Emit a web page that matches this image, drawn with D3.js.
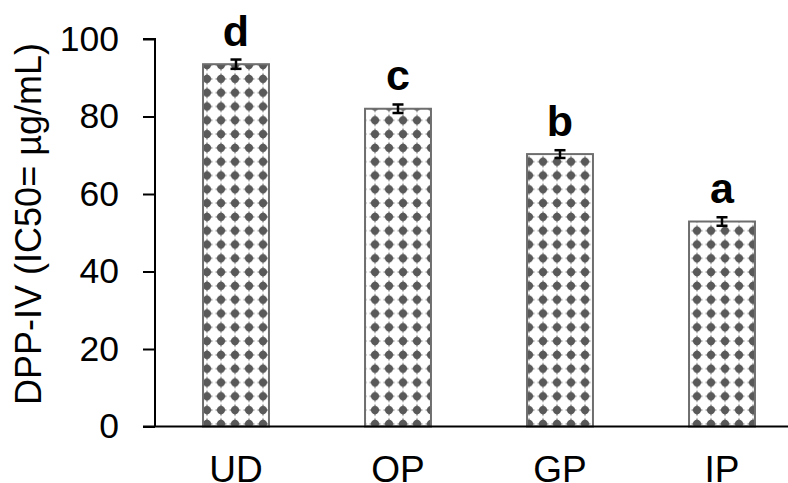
<!DOCTYPE html>
<html>
<head>
<meta charset="utf-8">
<script src="https://cdn.jsdelivr.net/npm/d3@7"></script>
<style>
html,body{margin:0;padding:0;background:#fff;}
svg{display:block;}
text{font-family:"Liberation Sans",Arial,sans-serif;}
</style>
</head>
<body>
<svg id="chart" width="788" height="483"></svg>
<script>
const categories = ["UD", "OP", "GP", "IP"];
const values = [93.5, 82.0, 70.3, 52.9];
const errors = [1.2, 1.1, 1.0, 1.1];
const letters = ["d", "c", "b", "a"];
const yTicks = [0, 20, 40, 60, 80, 100];
const yTitle = "DPP-IV (IC50= µg/mL)";

const svg = d3.select("#chart");
const W = 788, H = 483;
const plotLeft = 155, plotBottom = 426.5, plotTop = 39;

const x = d3.scaleBand().domain(categories).range([plotLeft, 803]).paddingInner(0.593).paddingOuter(0.2965);
const y = d3.scaleLinear().domain([0, 100]).range([plotBottom, plotTop]);

// pattern
const defs = svg.append("defs");
const pat = defs.append("pattern").attr("id", "dots")
  .attr("patternUnits", "userSpaceOnUse")
  .attr("width", 14).attr("height", 13.8)
  .attr("x", 4).attr("y", 3);
pat.append("rect").attr("width", 14).attr("height", 13.8).attr("fill", "#fff");
pat.append("circle").attr("cx", 7).attr("cy", 6.9).attr("r", 4.1).attr("fill", "#595959");
pat.append("path").attr("d", "M7,0.6 L8.8,6.9 L7,13.2 L5.2,6.9 Z M0.7,6.9 L7,5.1 L13.3,6.9 L7,8.7 Z").attr("fill", "#595959");

// bars
svg.append("g").selectAll("rect").data(categories).join("rect")
  .attr("x", d => x(d))
  .attr("y", (d, i) => y(values[i]))
  .attr("width", x.bandwidth())
  .attr("height", (d, i) => plotBottom - y(values[i]))
  .attr("fill", "url(#dots)")
  .attr("stroke", "#6e6e6e")
  .attr("stroke-width", 2);

// error bars
const eg = svg.append("g").attr("stroke", "#000").attr("stroke-width", 2.5);
categories.forEach((c, i) => {
  const cx = x(c) + x.bandwidth() / 2;
  eg.append("line").attr("x1", cx).attr("x2", cx).attr("y1", y(values[i] - errors[i])).attr("y2", y(values[i] + errors[i]));
  eg.append("line").attr("x1", cx - 5.5).attr("x2", cx + 5.5).attr("y1", y(values[i] + errors[i])).attr("y2", y(values[i] + errors[i]));
  eg.append("line").attr("x1", cx - 5.5).attr("x2", cx + 5.5).attr("y1", y(values[i] - errors[i])).attr("y2", y(values[i] - errors[i]));
});

// letters
svg.append("g").selectAll("text").data(categories).join("text")
  .attr("x", d => x(d) + x.bandwidth() / 2)
  .attr("y", (d, i) => y(values[i] + errors[i]) - 14)
  .attr("text-anchor", "middle")
  .attr("font-weight", "bold")
  .attr("font-size", 43)
  .attr("fill", "#000")
  .text((d, i) => letters[i]);

// y axis
const ya = svg.append("g").attr("transform", `translate(${plotLeft},0)`)
  .call(d3.axisLeft(y).tickValues(yTicks).tickSize(12).tickPadding(24).tickFormat(d3.format("d")));
ya.select(".domain").attr("stroke", "#000").attr("stroke-width", 2).attr("d", `M-12,${plotTop}H0V${plotBottom}`);
ya.selectAll(".tick line").attr("stroke", "#000").attr("stroke-width", 2);
ya.selectAll(".tick text").attr("font-size", 35.5).attr("fill", "#000").attr("font-family", "Liberation Sans, Arial, sans-serif");

// x axis
const xa = svg.append("g").attr("transform", `translate(0,${plotBottom})`)
  .call(d3.axisBottom(x).tickSize(0).tickPadding(29));
xa.select(".domain").attr("stroke", "#000").attr("stroke-width", 2).attr("d", `M${plotLeft - 12},0H${W}`);
xa.selectAll(".tick text").attr("font-size", 37).attr("fill", "#000").attr("font-family", "Liberation Sans, Arial, sans-serif");

// y title
svg.append("text")
  .attr("transform", `translate(41,224) rotate(-90)`)
  .attr("text-anchor", "middle")
  .attr("font-size", 36)
  .attr("fill", "#000")
  .text(yTitle);
</script>
</body>
</html>
